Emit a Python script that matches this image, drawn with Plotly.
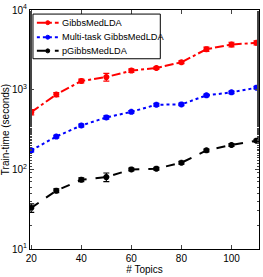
import plotly.graph_objects as go

topics = [20, 30, 40, 50, 60, 70, 80, 90, 100, 110]
gibbs = [522, 870, 1285, 1440, 1735, 1870, 2210, 3220, 3690, 3870]
gibbs_err = [40, 50, 70, 160, 90, 70, 90, 200, 250, 230]
multi = [173, 258, 355, 448, 527, 647, 653, 848, 925, 1060]
multi_err = [8, 10, 15, 20, 20, 25, 25, 30, 35, 40]
pgibbs = [32.8, 54, 74, 80, 99.8, 102, 121, 173, 202, 229]
pgibbs_err = [4, 3, 4, 10, 4, 4, 5, 7, 8, 9]
names = ["GibbsMedLDA", "Multi-task GibbsMedLDA", "pGibbsMedLDA"]
colors = ["#ff0000", "#0000ff", "#000000"]
dashes = ["dashdot", "dot", "dash"]
ytickvals = [10, 100, 1000, 10000]
yticktext = ["10<sup>1</sup>", "10<sup>2</sup>", "10<sup>3</sup>", "10<sup>4</sup>"]

FONT = "Liberation Sans, Arial, sans-serif"

fig = go.Figure()
for name, ys, err, c, d in zip(names, [gibbs, multi, pgibbs],
                               [gibbs_err, multi_err, pgibbs_err], colors, dashes):
    fig.add_trace(go.Scatter(
        x=topics, y=ys, name=name, mode="lines+markers",
        line=dict(color=c, dash=d, width=2),
        marker=dict(symbol="asterisk-open", size=5, color=c, line=dict(color=c, width=2)),
        error_y=dict(type="data", array=err, color=c, thickness=1.2, width=3),
        showlegend=False,
    ))

# Compact legend box (MATLAB-style), drawn in paper coordinates
leg_x0, leg_x1, leg_y0, leg_y1 = 0.013, 0.569, 0.796, 0.983
row_y = [0.947, 0.886, 0.829]
samp_x0, samp_x1, text_x = 0.030, 0.125, 0.133
shapes = [dict(type="rect", xref="paper", yref="paper", x0=leg_x0, x1=leg_x1,
               y0=leg_y0, y1=leg_y1, line=dict(color="black", width=1),
               fillcolor="white", layer="above")]
annotations = []
for name, c, d, yy in zip(names, colors, dashes, row_y):
    shapes.append(dict(type="line", xref="paper", yref="paper", x0=samp_x0, x1=samp_x1,
                       y0=yy, y1=yy, line=dict(color=c, dash=d, width=2), layer="above"))
    xm = (samp_x0 + samp_x1) / 2
    shapes.append(dict(type="circle", xref="paper", yref="paper",
                       xsizemode="pixel", ysizemode="pixel", xanchor=xm, yanchor=yy,
                       x0=-2, x1=2, y0=-2, y1=2,
                       fillcolor=c, line=dict(color=c, width=1), layer="above"))
    annotations.append(dict(xref="paper", yref="paper", x=text_x, y=yy, text=name,
                            showarrow=False, xanchor="left", yanchor="middle",
                            font=dict(size=9.2, color="black", family=FONT)))

fig.update_layout(
    width=263, height=277,
    margin=dict(l=28, r=3, t=9, b=28),
    paper_bgcolor="white", plot_bgcolor="white",
    font=dict(family=FONT, size=10, color="black"),
    showlegend=False,
    shapes=shapes, annotations=annotations,
)
fig.update_xaxes(
    range=[19.5, 111], tickvals=[20, 40, 60, 80, 100],
    ticks="inside", ticklen=4, showline=True, linecolor="black", linewidth=1,
    mirror="ticks", showgrid=False, zeroline=False,
    title=dict(text="# Topics", standoff=2, font=dict(size=10)),
)
fig.update_yaxes(
    type="log", range=[1, 4], tickvals=ytickvals, ticktext=yticktext,
    ticks="inside", ticklen=4, showline=True, linecolor="black", linewidth=1,
    mirror="ticks", showgrid=False, zeroline=False,
    minor=dict(ticks="inside", ticklen=2, showgrid=False),
    title=dict(text="Train-time (seconds)", standoff=2, font=dict(size=10)),
)
fig.write_html("out.html", config={"displayModeBar": False},
               post_script="document.body.style.margin='0';")
